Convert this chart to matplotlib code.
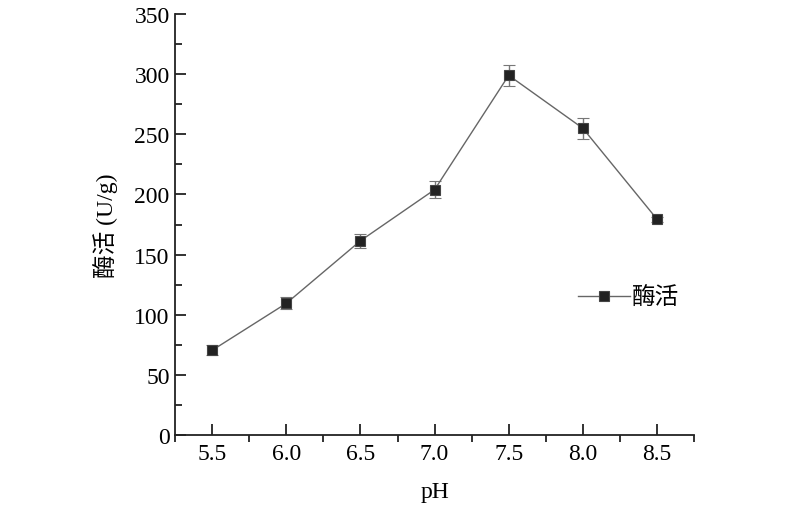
import matplotlib
matplotlib.use("Agg")
import matplotlib.pyplot as plt
from matplotlib.ticker import MultipleLocator
from matplotlib.lines import Line2D

plt.rcParams['font.family'] = ['Liberation Serif', 'Noto Sans CJK SC']

ph = [5.5, 6.0, 6.5, 7.0, 7.5, 8.0, 8.5]
activity = [70.5, 109.5, 161.5, 204, 299, 255, 179.5]
errors = [4, 5, 6, 7, 8.5, 8.5, 2]
series_label = '酶活'
xticks = [5.5, 6.0, 6.5, 7.0, 7.5, 8.0, 8.5]
yticks = [0, 50, 100, 150, 200, 250, 300, 350]

fig = plt.figure(figsize=(8, 5.1), dpi=100)
ax = fig.add_axes([0.219, 0.145, 0.6485, 0.8256])

line_kw = dict(color='#666666', lw=1.0, marker='s', markersize=7,
               markerfacecolor='#222222', markeredgecolor='#444444',
               markeredgewidth=0.8)
ax.errorbar(ph, activity, yerr=errors, ecolor='#777777', elinewidth=1.0,
            capsize=4, capthick=1.0, **line_kw)

ax.set_xlim(5.25, 8.75)
ax.set_ylim(0, 350)
ax.set_xticks(xticks)
ax.set_xticklabels([f'{v:.1f}' for v in xticks])
ax.set_yticks(yticks)
ax.xaxis.set_minor_locator(MultipleLocator(0.25))
ax.yaxis.set_minor_locator(MultipleLocator(25))

for s in ['top', 'right']:
    ax.spines[s].set_visible(False)
for s in ['left', 'bottom']:
    ax.spines[s].set_linewidth(1.3)
    ax.spines[s].set_color('#222222')

ax.tick_params(axis='y', which='major', direction='in', length=8, width=1.3, labelsize=17, pad=4, color='#222222')
ax.tick_params(axis='y', which='minor', direction='in', length=5, width=1.3, color='#222222')
ax.tick_params(axis='x', which='major', direction='in', length=8, width=1.3, labelsize=17, pad=6, color='#222222')
ax.tick_params(axis='x', which='minor', direction='out', length=5, width=1.3, color='#222222')

ax.set_xlabel('pH', fontsize=17, labelpad=12)
ax.set_ylabel('酶活 (U/g)', fontsize=17, labelpad=12)

handle = Line2D([], [], **line_kw)
ax.legend([handle], [series_label], loc='center left', bbox_to_anchor=(0.735, 0.325),
          frameon=False, fontsize=17, handlelength=2.2, handletextpad=0.1)

fig.savefig('out.png', dpi=100)
